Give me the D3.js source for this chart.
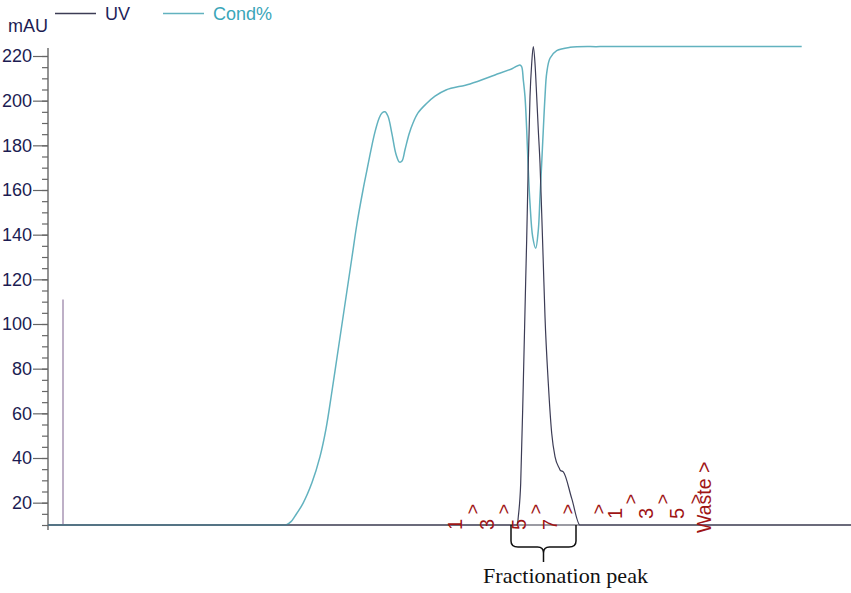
<!DOCTYPE html>
<html>
<head>
<meta charset="utf-8">
<script src="https://cdn.jsdelivr.net/npm/d3@7/dist/d3.min.js"></script>
<style>
  html, body { margin: 0; padding: 0; background: #fff; }
  svg { display: block; }
</style>
</head>
<body>
<svg id="chart" width="851" height="593"></svg>
<script>
// ---------- DATA ----------
// volume (arbitrary mL units) and absorbance / conductivity values
const condVol = [0, 5, 10, 15, 20, 22.5, 23.3, 23.8, 24.3, 24.7, 25.5, 26.4, 27.2, 27.8, 28.4, 28.9, 29.4, 29.9, 30.4, 30.9, 31.5, 31.9, 32.3, 32.7, 33.1, 33.4, 33.7, 34.0, 34.4, 34.8, 35.15, 35.4, 35.7, 36.1, 36.5, 37.0, 37.8, 38.7, 39.8, 42.2, 44.7, 46.4, 47.2, 47.37, 47.53, 47.7, 47.87, 48.03, 48.2, 48.47, 48.77, 49.03, 49.2, 49.37, 49.53, 49.7, 49.87, 50.2, 50.87, 52.2, 55.2, 60, 65, 70, 75.37];
const condVal = [10, 10, 10, 10, 10, 10, 10, 10, 11.5, 14, 19.7, 29, 40.6, 53, 70, 85, 100, 115, 130, 145, 160, 169, 178, 186, 192, 194.5, 195, 193, 185, 176, 172.5, 173, 178, 185, 190, 194.5, 198.5, 202, 204.8, 207.5, 211.5, 214.3, 216, 215.2, 209.3, 201.8, 186.9, 169, 154, 139, 133.9, 142, 157, 172, 186.9, 201.8, 212.3, 219, 222.4, 223.9, 224.2, 224.2, 224.2, 224.2, 224.2];

const uvVol = [0, 46.93, 47.03, 47.27, 47.53, 47.77, 47.87, 48.03, 48.2, 48.37, 48.53, 48.7, 48.87, 49.03, 49.2, 49.37, 49.53, 49.7, 50.03, 50.37, 50.7, 51.13, 51.25, 51.53, 52.37, 53.2, 80.3];
const uvVal = [10, 10, 13.7, 28.7, 73.5, 119.7, 138, 172, 201.8, 216.7, 224.2, 216.7, 201.8, 186.9, 172, 149.6, 127.2, 103.3, 73.5, 51.1, 40.6, 35.4, 34.4, 33.8, 21.9, 10, 10];

const injectVol = 1.5, injectVal = 111;

const yMajorTicks = [20, 40, 60, 80, 100, 120, 140, 160, 180, 200, 220];
const yMinorTicks = d3.range(10, 221, 5);

const fracLabelsA = ["1", "3", "5", "7"];
const fracVolA = [41.4, 44.6, 47.8, 50.9];
const fracLabelsB = ["1", "3", "5"];
const fracVolB = [57.4, 60.5, 63.6];
const wasteLabel = "Waste >";
const wasteVol = 66.3;
const caretVolA = [43.1, 46.2, 49.4, 52.6, 55.7];
const caretVolB = [58.9, 62.1, 65.4];

const peakStart = 46.3, peakEnd = 52.8, peakMid = 49.55;
const peakText = "Fractionation peak";

const legendItems = [{ name: "UV", color: "#3c3c55", text: "#1e1e5a" },
                     { name: "Cond%", color: "#62b2bf", text: "#3aa6b9" }];

// ---------- CHART ----------
(function () {
const svg = d3.select("#chart");
const x = d3.scaleLinear().domain([0, 80.3]).range([48, 851]);
const y = d3.scaleLinear().domain([10, 220]).range([525, 56]);
const sans = "'Liberation Sans', Arial, sans-serif";

// axes
const minor = d3.axisLeft(y).tickValues(yMinorTicks).tickSize(6).tickFormat("");
const major = d3.axisLeft(y).tickValues(yMajorTicks).tickSize(15).tickPadding(1);
const gMin = svg.append("g").attr("transform", `translate(${x(0)},0)`).call(minor);
const gMaj = svg.append("g").attr("transform", `translate(${x(0)},0)`).call(major);
[gMin, gMaj].forEach(g => {
  g.select(".domain").remove();
  g.selectAll("line").attr("stroke", "#666").attr("stroke-width", 1.2);
});
gMaj.selectAll("text").attr("fill", "#1c1c52").style("font-family", sans).style("font-size", "18px");

svg.append("line")
  .attr("x1", x(0)).attr("x2", x(0))
  .attr("y1", y(223.6)).attr("y2", y(7.8))
  .attr("stroke", "#666").attr("stroke-width", 1.4);

svg.append("line")
  .attr("x1", x(0)).attr("x2", x(80.3))
  .attr("y1", y(10)).attr("y2", y(10))
  .attr("stroke", "#7a7a85").attr("stroke-width", 1.6);

// injection mark
svg.append("line")
  .attr("x1", x(injectVol)).attr("x2", x(injectVol))
  .attr("y1", y(injectVal)).attr("y2", y(10))
  .attr("stroke", "#a996b4").attr("stroke-width", 1.5);

// curves
const condData = condVol.map((v, i) => [v, condVal[i]]);
const uvData = uvVol.map((v, i) => [v, uvVal[i]]);
const condLine = d3.line().x(d => x(d[0])).y(d => y(d[1])).curve(d3.curveCatmullRom.alpha(0.5));
const uvLine = d3.line().x(d => x(d[0])).y(d => y(d[1])).curve(d3.curveMonotoneX);

svg.append("path").datum(condData).attr("d", condLine)
  .attr("fill", "none").attr("stroke", legendItems[1].color).attr("stroke-width", 1.5);
svg.append("path").datum(uvData).attr("d", uvLine)
  .attr("fill", "none").attr("stroke", legendItems[0].color).attr("stroke-width", 1.2);

// legend
svg.append("text").attr("x", 8).attr("y", 32).text("mAU")
  .attr("fill", "#1c1c52").style("font-family", sans).style("font-size", "18px");
const legX = [[55, 96, 105], [163, 204, 213]];
legendItems.forEach((it, i) => {
  svg.append("line").attr("x1", legX[i][0]).attr("x2", legX[i][1]).attr("y1", 13.5).attr("y2", 13.5)
    .attr("stroke", it.color).attr("stroke-width", 1.5);
  svg.append("text").attr("x", legX[i][2]).attr("y", 20).text(it.name)
    .attr("fill", it.text).style("font-family", sans).style("font-size", "18px");
});

// fraction labels
const red = "#a01515";
function rotText(t, v, yStart, size) {
  const px = x(v);
  svg.append("text")
    .attr("transform", `translate(${px},${yStart}) rotate(-90)`)
    .text(t).attr("fill", red)
    .style("font-family", sans).style("font-size", size + "px");
}
fracLabelsA.forEach((t, i) => rotText(t, fracVolA[i], 530, 20));
fracLabelsB.forEach((t, i) => rotText(t, fracVolB[i], 519, 20));
rotText(wasteLabel, wasteVol, 533, 19.5);
caretVolA.forEach(v => rotText(">", v, 514.5, 18));
caretVolB.forEach(v => rotText(">", v, 504.5, 18));

// brace
const L = x(peakStart), R = x(peakEnd), C = x(peakMid), bTop = y(10);
const br = d3.path();
br.moveTo(L, bTop); br.lineTo(L, 541); br.quadraticCurveTo(L, 547, L + 7, 547);
br.lineTo(C - 6, 547); br.quadraticCurveTo(C, 547, C, 553); br.lineTo(C, 562);
br.moveTo(R, bTop); br.lineTo(R, 541); br.quadraticCurveTo(R, 547, R - 7, 547);
br.lineTo(C + 6, 547); br.quadraticCurveTo(C, 547, C, 553);
svg.append("path").attr("d", br.toString()).attr("fill", "none")
  .attr("stroke", "#111").attr("stroke-width", 1.5);

svg.append("text").attr("x", 483).attr("y", 583).text(peakText)
  .attr("textLength", 165).attr("lengthAdjust", "spacingAndGlyphs")
  .attr("fill", "#111").style("font-family", "'Liberation Serif', 'Times New Roman', serif").style("font-size", "21px");
})();
</script>
</body>
</html>
